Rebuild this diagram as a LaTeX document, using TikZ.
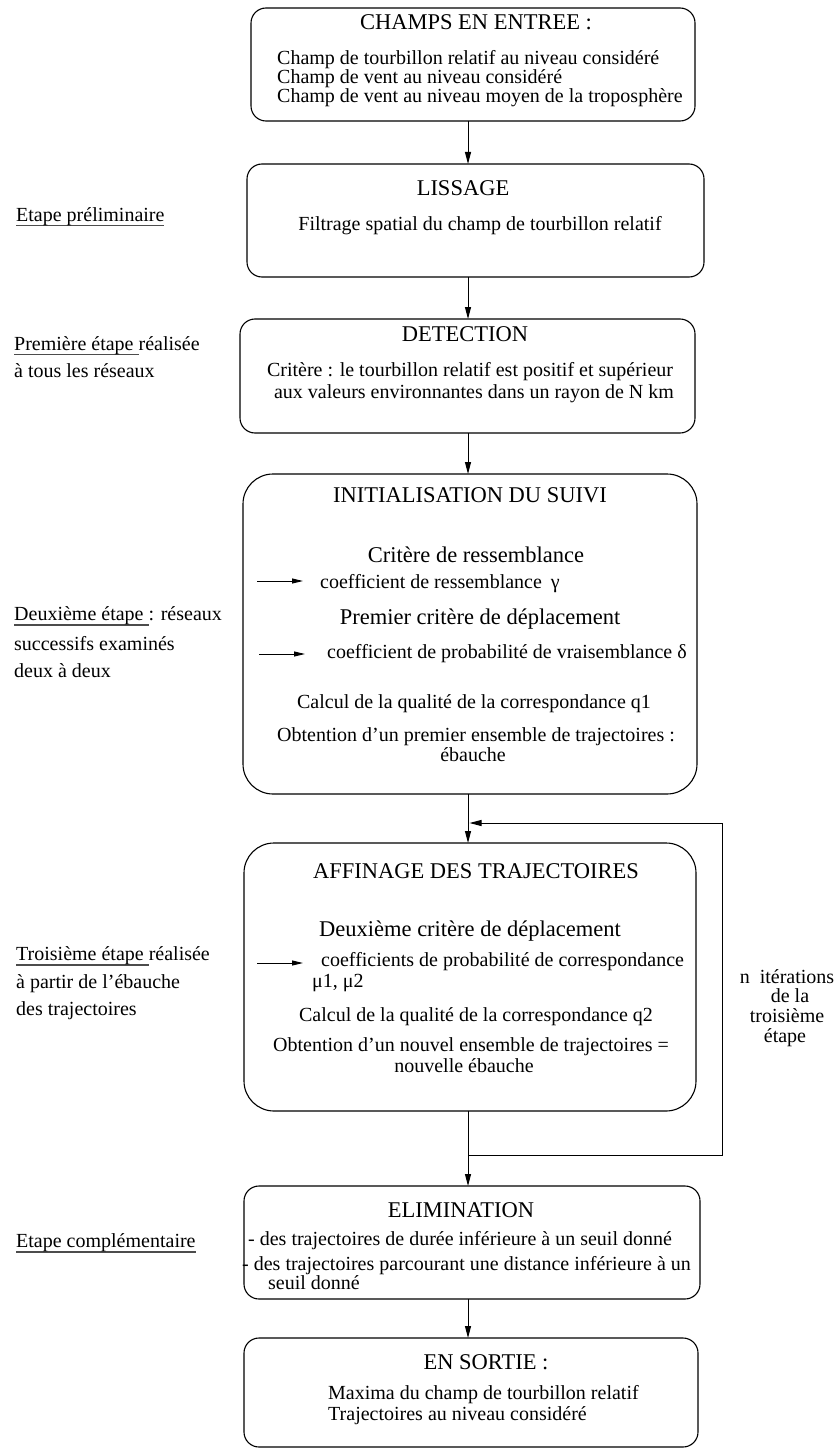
\documentclass[tikz,border=0pt]{standalone}
\usepackage{fontspec}
\setmainfont{Liberation Serif}
\usetikzlibrary{arrows.meta}
\newcommand\myul[1]{\setbox0=\hbox{#1}\rlap{\color{black!70}\rule[-5.2pt]{\wd0}{1.3pt}}\box0}
\begin{document}
\begin{tikzpicture}[x=1pt,y=-1pt,
  boxr/.style={draw=black, line width=1.1pt, rounded corners=15pt, inner sep=0pt, outer sep=0pt},
  bigbox/.style={boxr, rounded corners=30pt},
  body/.style={inner sep=0pt, font=\fontsize{20}{24}\selectfont},
  ttl/.style={inner sep=0pt, font=\fontsize{22.5}{27}\selectfont},
  arr/.style={line width=1pt, -{Triangle[length=12pt,width=6pt]}},
  sarr/.style={line width=1pt, -{Triangle[length=11pt,width=5pt]}},
  ln/.style={line width=1pt}]
\useasboundingbox (0,0) rectangle (837,1450);

% boxes
\node[boxr, minimum width=444pt, minimum height=113pt] (b1) at (473,64.5) {};
\node[boxr, minimum width=457pt, minimum height=113pt] (b2) at (475.5,220.5) {};
\node[boxr, minimum width=455pt, minimum height=114pt] (b3) at (467.5,376) {};
\node[bigbox, minimum width=454pt, minimum height=320pt] (b4) at (470,634) {};
\node[bigbox, minimum width=452pt, minimum height=268pt] (b5) at (470,977) {};
\node[boxr, minimum width=456pt, minimum height=113pt] (b6) at (472,1242.5) {};
\node[boxr, minimum width=454pt, minimum height=109pt] (b7) at (471,1392.5) {};

% box 1
\node[ttl, anchor=mid] (t1) at (476,27) {CHAMPS EN ENTREE :};
\node[body, anchor=mid west] (t1a) at (277,62) {Champ de tourbillon relatif au niveau considéré};
\node[body, anchor=mid west] (t1b) at (277,81) {Champ de vent au niveau considéré};
\node[body, anchor=mid west] (t1c) at (277,100) {Champ de vent au niveau moyen de la troposphère};

% box 2
\node[ttl, anchor=mid] (t2) at (463,193) {LISSAGE};
\node[body, anchor=mid] (t2a) at (480,228) {Filtrage spatial du champ de tourbillon relatif};

% box 3
\node[ttl, anchor=mid] (t3) at (465,339) {DETECTION};
\node[body, anchor=mid] (t3a) at (470,374) {Critère : le tourbillon relatif est positif et supérieur};
\node[body, anchor=mid] (t3b) at (474,396) {aux valeurs environnantes dans un rayon de N km};

% box 4
\node[ttl, anchor=mid] (t4) at (470,500) {INITIALISATION DU SUIVI};
\node[ttl, anchor=mid] (t4a) at (476,560) {Critère de ressemblance};
\node[body, anchor=mid west] (t4b) at (320,586) {coefficient de ressemblance\hspace{9pt}γ};
\node[ttl, anchor=mid] (t4c) at (480,622) {Premier critère de déplacement};
\node[body, anchor=mid west] (t4d) at (327,656) {coefficient de probabilité de vraisemblance δ};
\node[body, anchor=mid] (t4e) at (474,706) {Calcul de la qualité de la correspondance q1};
\node[body, anchor=mid] (t4f) at (476,739) {Obtention d’un premier ensemble de trajectoires :};
\node[body, anchor=mid] (t4g) at (473,759) {ébauche};

% box 5
\node[ttl, anchor=mid] (t5) at (476,876) {AFFINAGE DES TRAJECTOIRES};
\node[ttl, anchor=mid] (t5a) at (470,934) {Deuxième critère de déplacement};
\node[body, anchor=mid west] (t5b) at (321,964) {coefficients de probabilité de correspondance};
\node[body, anchor=mid west] (t5c) at (312,985) {μ1, μ2};
\node[body, anchor=mid] (t5d) at (476,1019) {Calcul de la qualité de la correspondance q2};
\node[body, anchor=mid] (t5e) at (471,1049) {Obtention d’un nouvel ensemble de trajectoires =};
\node[body, anchor=mid] (t5f) at (464,1070) {nouvelle ébauche};

% box 6
\node[ttl, anchor=mid] (t6) at (461,1215) {ELIMINATION};
\node[body, anchor=mid west] (t6a) at (248,1243) {- des trajectoires de durée inférieure à un seuil donné};
\node[body, anchor=mid west] (t6b) at (242,1268) {- des trajectoires parcourant une distance inférieure à un};
\node[body, anchor=mid west] (t6c) at (268,1287) {seuil donné};

% box 7
\node[ttl, anchor=mid] (t7) at (486,1367) {EN SORTIE :};
\node[body, anchor=mid west] (t7a) at (328,1397) {Maxima du champ de tourbillon relatif};
\node[body, anchor=mid west] (t7b) at (328,1418) {Trajectoires au niveau considéré};

% left labels
\node[body, anchor=mid west] (l1) at (16,219) {\myul{Etape préliminaire}};
\node[body, anchor=mid west] (l2a) at (14,348) {\myul{Première étape }réalisée};
\node[body, anchor=mid west] (l2b) at (14,375) {à tous les réseaux};
\node[body, anchor=mid west] (l3a) at (14,618) {\myul{Deuxième étape }: réseaux};
\node[body, anchor=mid west] (l3b) at (14,648) {successifs examinés};
\node[body, anchor=mid west] (l3c) at (14,675) {deux à deux};
\node[body, anchor=mid west] (l4a) at (16,958) {\myul{Troisième étape }réalisée};
\node[body, anchor=mid west] (l4b) at (16,986) {à partir de l’ébauche};
\node[body, anchor=mid west] (l4c) at (16,1013) {des trajectoires};
\node[body, anchor=mid west] (l5) at (16,1245) {\myul{Etape complémentaire}};

% right label
\node[body, anchor=mid] (r1) at (787,981) {n\hspace{10pt}itérations};
\node[body, anchor=mid] (r2) at (790,1000) {de la};
\node[body, anchor=mid] (r3) at (787,1020) {troisième};
\node[body, anchor=mid] (r4) at (785,1040) {étape};

% connectors
\coordinate (spine) at (468,0);
\draw[arr] (b1.south -| spine) -- (b2.north -| spine);
\draw[arr] (b2.south -| spine) -- (b3.north -| spine);
\draw[arr] (b3.south -| spine) -- (b4.north -| spine);
\draw[arr] (b4.south -| spine) -- (b5.north -| spine);
\draw[arr] (b5.south -| spine) -- (b6.north -| spine);
\draw[arr] (b6.south -| spine) -- (b7.north -| spine);

\coordinate (fbt) at (722,823);
\coordinate (fbb) at (722,1155);
\draw[ln] (fbb -| spine) -- (fbb) -- (fbt);
\draw[arr] (fbt) -- ([xshift=1.5pt]fbt -| spine);

% small arrows
\coordinate (s1a) at (257,581);
\coordinate (s1b) at (303,581);
\coordinate (s2a) at (259,654);
\coordinate (s2b) at (305,654);
\coordinate (s3a) at (257,963);
\coordinate (s3b) at (303,963);
\draw[sarr] (s1a) -- (s1b);
\draw[sarr] (s2a) -- (s2b);
\draw[sarr] (s3a) -- (s3b);
\end{tikzpicture}
\end{document}
